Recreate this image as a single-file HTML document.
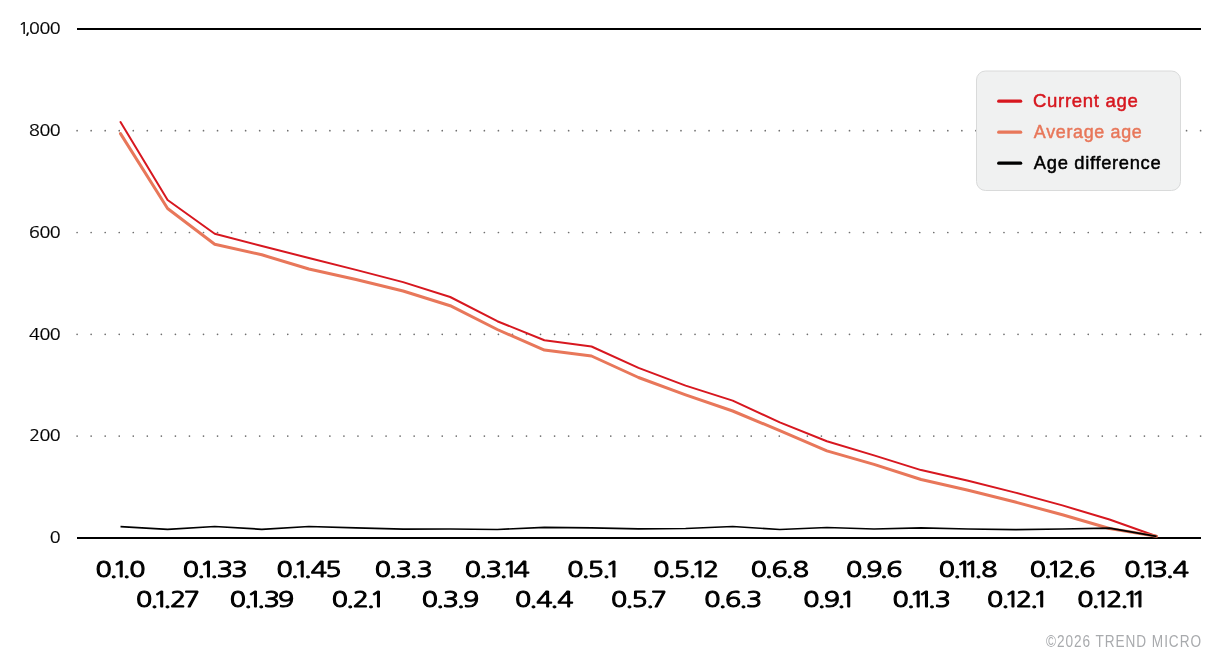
<!DOCTYPE html>
<html lang="en"><head><meta charset="utf-8"><title>Age chart</title>
<style>
html,body{margin:0;padding:0;background:#fff;}
body{width:1221px;height:667px;overflow:hidden;}
svg{display:block;font-family:"Liberation Sans",sans-serif;}
.n{font-family:"NanumGothic","Liberation Sans",sans-serif;}
</style></head><body>
<svg width="1221" height="667" viewBox="0 0 1221 667">
<rect width="1221" height="667" fill="#fff"/>
<line x1="77.1" y1="130.7" x2="1201.5" y2="130.7" stroke="#707070" stroke-width="1.7" stroke-linecap="round" stroke-dasharray="0.01 14.0337"/>
<line x1="77.1" y1="232.5" x2="1201.5" y2="232.5" stroke="#707070" stroke-width="1.7" stroke-linecap="round" stroke-dasharray="0.01 14.0337"/>
<line x1="77.1" y1="334.3" x2="1201.5" y2="334.3" stroke="#707070" stroke-width="1.7" stroke-linecap="round" stroke-dasharray="0.01 14.0337"/>
<line x1="77.1" y1="436.1" x2="1201.5" y2="436.1" stroke="#707070" stroke-width="1.7" stroke-linecap="round" stroke-dasharray="0.01 14.0337"/>
<rect x="77" y="28" width="1124" height="2" fill="#000"/>
<rect x="77" y="537" width="1124" height="2" fill="#000"/>
<text class="n" transform="translate(20.60 34.0) scale(1.15 1)" x="-1.96 3.90 7.26 16.52 25.34" font-size="15.5" fill="#000" stroke="#000" stroke-width="0.25" stroke-linejoin="round">1,000</text>
<text class="n" transform="translate(29.60 136.2) scale(1.15 1)" x="-0.58 8.69 17.52" font-size="15.5" fill="#000" stroke="#000" stroke-width="0.25" stroke-linejoin="round">800</text>
<text class="n" transform="translate(29.60 238.1) scale(1.15 1)" x="-0.62 8.69 17.52" font-size="15.5" fill="#000" stroke="#000" stroke-width="0.25" stroke-linejoin="round">600</text>
<text class="n" transform="translate(29.60 339.9) scale(1.15 1)" x="-0.53 8.69 17.52" font-size="15.5" fill="#000" stroke="#000" stroke-width="0.25" stroke-linejoin="round">400</text>
<text class="n" transform="translate(30.10 441.3) scale(1.15 1)" x="-0.67 8.26 17.08" font-size="15.5" fill="#000" stroke="#000" stroke-width="0.25" stroke-linejoin="round">200</text>
<text class="n" transform="translate(50.60 543.2) scale(1.15 1)" x="-0.74" font-size="15.5" fill="#000" stroke="#000" stroke-width="0.25" stroke-linejoin="round">0</text>
<polyline points="120.5,122.0 167.6,200.0 214.7,233.8 261.8,246.0 308.9,258.0 356.0,269.9 403.1,282.1 450.2,297.0 497.3,321.2 544.4,340.2 591.5,346.5 638.5,367.9 685.6,385.6 732.7,400.6 779.8,422.4 826.9,441.3 874.0,455.4 921.1,470.1 968.2,480.8 1015.3,492.6 1062.4,505.4 1109.5,519.5 1156.6,536.2" fill="none" stroke="#d7171f" stroke-width="2" stroke-linejoin="round" stroke-linecap="round"/>
<polyline points="120.5,133.6 167.6,208.5 214.7,244.3 261.8,254.8 308.9,269.0 356.0,279.5 403.1,291.0 450.2,305.7 497.3,329.5 544.4,350.1 591.5,356.0 638.5,377.5 685.6,394.8 732.7,411.0 779.8,430.6 826.9,450.9 874.0,464.4 921.1,479.5 968.2,490.2 1015.3,502.0 1062.4,514.8 1109.5,528.5 1156.6,536.3" fill="none" stroke="#e8775a" stroke-width="3" stroke-linejoin="round" stroke-linecap="round"/>
<polyline points="120.5,526.7 167.6,529.3 214.7,526.5 261.8,529.3 308.9,526.5 356.0,527.8 403.1,529.2 450.2,529.0 497.3,529.5 544.4,527.3 591.5,527.8 638.5,528.8 685.6,528.5 732.7,526.5 779.8,529.5 826.9,527.5 874.0,529.0 921.1,527.9 968.2,529.0 1015.3,529.7 1062.4,529.0 1109.5,528.2 1156.6,536.4" fill="none" stroke="#000" stroke-width="1.7" stroke-linejoin="round"/>
<text class="n" transform="translate(96.38 577) scale(1.2 1)" x="-0.82 11.00 13.18 21.87 27.38" font-size="22.3" fill="#000" stroke="#000" stroke-width="1.0" stroke-linejoin="round">0.1.0</text>
<text class="n" transform="translate(137.02 607) scale(1.2 1)" x="-0.82 11.00 13.18 21.87 27.47 39.05" font-size="22.3" fill="#000" stroke="#000" stroke-width="1.0" stroke-linejoin="round">0.1.27</text>
<text class="n" transform="translate(183.82 577) scale(1.2 1)" x="-0.82 11.00 13.18 21.87 27.55 39.72" font-size="22.3" fill="#000" stroke="#000" stroke-width="1.0" stroke-linejoin="round">0.1.33</text>
<text class="n" transform="translate(230.76 607) scale(1.2 1)" x="-0.82 11.00 13.18 21.87 27.55 39.48" font-size="22.3" fill="#000" stroke="#000" stroke-width="1.0" stroke-linejoin="round">0.1.39</text>
<text class="n" transform="translate(277.53 577) scale(1.2 1)" x="-0.82 11.00 13.18 21.87 27.65 39.76" font-size="22.3" fill="#000" stroke="#000" stroke-width="1.0" stroke-linejoin="round">0.1.45</text>
<text class="n" transform="translate(332.75 607) scale(1.2 1)" x="-0.82 11.00 16.60 28.37 30.55" font-size="22.3" fill="#000" stroke="#000" stroke-width="1.0" stroke-linejoin="round">0.2.1</text>
<text class="n" transform="translate(375.65 577) scale(1.2 1)" x="-0.82 11.00 16.68 28.29 33.97" font-size="22.3" fill="#000" stroke="#000" stroke-width="1.0" stroke-linejoin="round">0.3.3</text>
<text class="n" transform="translate(422.74 607) scale(1.2 1)" x="-0.82 11.00 16.68 28.29 33.48" font-size="22.3" fill="#000" stroke="#000" stroke-width="1.0" stroke-linejoin="round">0.3.9</text>
<text class="n" transform="translate(465.69 577) scale(1.2 1)" x="-0.82 11.00 16.68 28.29 30.47 39.86" font-size="22.3" fill="#000" stroke="#000" stroke-width="1.0" stroke-linejoin="round">0.3.14</text>
<text class="n" transform="translate(516.08 607) scale(1.2 1)" x="-0.82 11.00 16.77 28.58 34.36" font-size="22.3" fill="#000" stroke="#000" stroke-width="1.0" stroke-linejoin="round">0.4.4</text>
<text class="n" transform="translate(568.20 577) scale(1.2 1)" x="-0.82 11.00 16.35 28.41 30.59" font-size="22.3" fill="#000" stroke="#000" stroke-width="1.0" stroke-linejoin="round">0.5.1</text>
<text class="n" transform="translate(611.97 607) scale(1.2 1)" x="-0.82 11.00 16.35 28.41 32.39" font-size="22.3" fill="#000" stroke="#000" stroke-width="1.0" stroke-linejoin="round">0.5.7</text>
<text class="n" transform="translate(654.25 577) scale(1.2 1)" x="-0.82 11.00 16.35 28.41 30.59 40.68" font-size="22.3" fill="#000" stroke="#000" stroke-width="1.0" stroke-linejoin="round">0.5.12</text>
<text class="n" transform="translate(705.29 607) scale(1.2 1)" x="-0.82 11.00 16.47 28.33 34.01" font-size="22.3" fill="#000" stroke="#000" stroke-width="1.0" stroke-linejoin="round">0.6.3</text>
<text class="n" transform="translate(751.64 577) scale(1.2 1)" x="-0.82 11.00 16.47 28.33 34.29" font-size="22.3" fill="#000" stroke="#000" stroke-width="1.0" stroke-linejoin="round">0.6.8</text>
<text class="n" transform="translate(804.31 607) scale(1.2 1)" x="-0.82 11.00 16.19 27.37 29.55" font-size="22.3" fill="#000" stroke="#000" stroke-width="1.0" stroke-linejoin="round">0.9.1</text>
<text class="n" transform="translate(846.85 577) scale(1.2 1)" x="-0.82 11.00 16.19 27.37 32.85" font-size="22.3" fill="#000" stroke="#000" stroke-width="1.0" stroke-linejoin="round">0.9.6</text>
<text class="n" transform="translate(893.50 607) scale(1.2 1)" x="-0.82 11.00 13.18 19.93 28.62 34.30" font-size="22.3" fill="#000" stroke="#000" stroke-width="1.0" stroke-linejoin="round">0.11.3</text>
<text class="n" transform="translate(939.84 577) scale(1.2 1)" x="-0.82 11.00 13.18 19.93 28.62 34.58" font-size="22.3" fill="#000" stroke="#000" stroke-width="1.0" stroke-linejoin="round">0.11.8</text>
<text class="n" transform="translate(988.09 607) scale(1.2 1)" x="-0.82 11.00 13.18 23.27 35.04 37.22" font-size="22.3" fill="#000" stroke="#000" stroke-width="1.0" stroke-linejoin="round">0.12.1</text>
<text class="n" transform="translate(1030.63 577) scale(1.2 1)" x="-0.82 11.00 13.18 23.27 35.04 40.51" font-size="22.3" fill="#000" stroke="#000" stroke-width="1.0" stroke-linejoin="round">0.12.6</text>
<text class="n" transform="translate(1078.23 607) scale(1.2 1)" x="-0.82 11.00 13.18 23.27 35.04 37.22 43.97" font-size="22.3" fill="#000" stroke="#000" stroke-width="1.0" stroke-linejoin="round">0.12.11</text>
<text class="n" transform="translate(1125.15 577) scale(1.2 1)" x="-0.82 11.00 13.18 22.26 33.87 39.65" font-size="22.3" fill="#000" stroke="#000" stroke-width="1.0" stroke-linejoin="round">0.13.4</text>
<rect x="976.5" y="71" width="204" height="119.5" rx="9" ry="9" fill="#f0f1f1" stroke="#d9dada" stroke-width="1"/>
<line x1="998.7" y1="101.2" x2="1020.7" y2="101.2" stroke="#d7171f" stroke-width="3.2" stroke-linecap="round"/>
<text transform="translate(1032.95 106.6) scale(0.9866 1)" font-size="18.8" fill="#d7171f" stroke="#d7171f" stroke-width="0.5" stroke-linejoin="round" letter-spacing="0.7">Current age</text>
<line x1="998.7" y1="132.2" x2="1020.7" y2="132.2" stroke="#e8775a" stroke-width="3.2" stroke-linecap="round"/>
<text transform="translate(1033.86 137.7) scale(0.9527 1)" font-size="18.8" fill="#e8775a" stroke="#e8775a" stroke-width="0.5" stroke-linejoin="round" letter-spacing="0.7">Average age</text>
<line x1="998.7" y1="163.2" x2="1020.7" y2="163.2" stroke="#000" stroke-width="3.2" stroke-linecap="round"/>
<text transform="translate(1033.86 168.6) scale(0.9757 1)" font-size="18.8" fill="#000" stroke="#000" stroke-width="0.5" stroke-linejoin="round" letter-spacing="0.7">Age difference</text>
<text transform="translate(1045.90 647) scale(0.8529 1)" font-size="16" fill="#a8aaad" letter-spacing="1.1">©2026 TREND MICRO</text>
</svg></body></html>
